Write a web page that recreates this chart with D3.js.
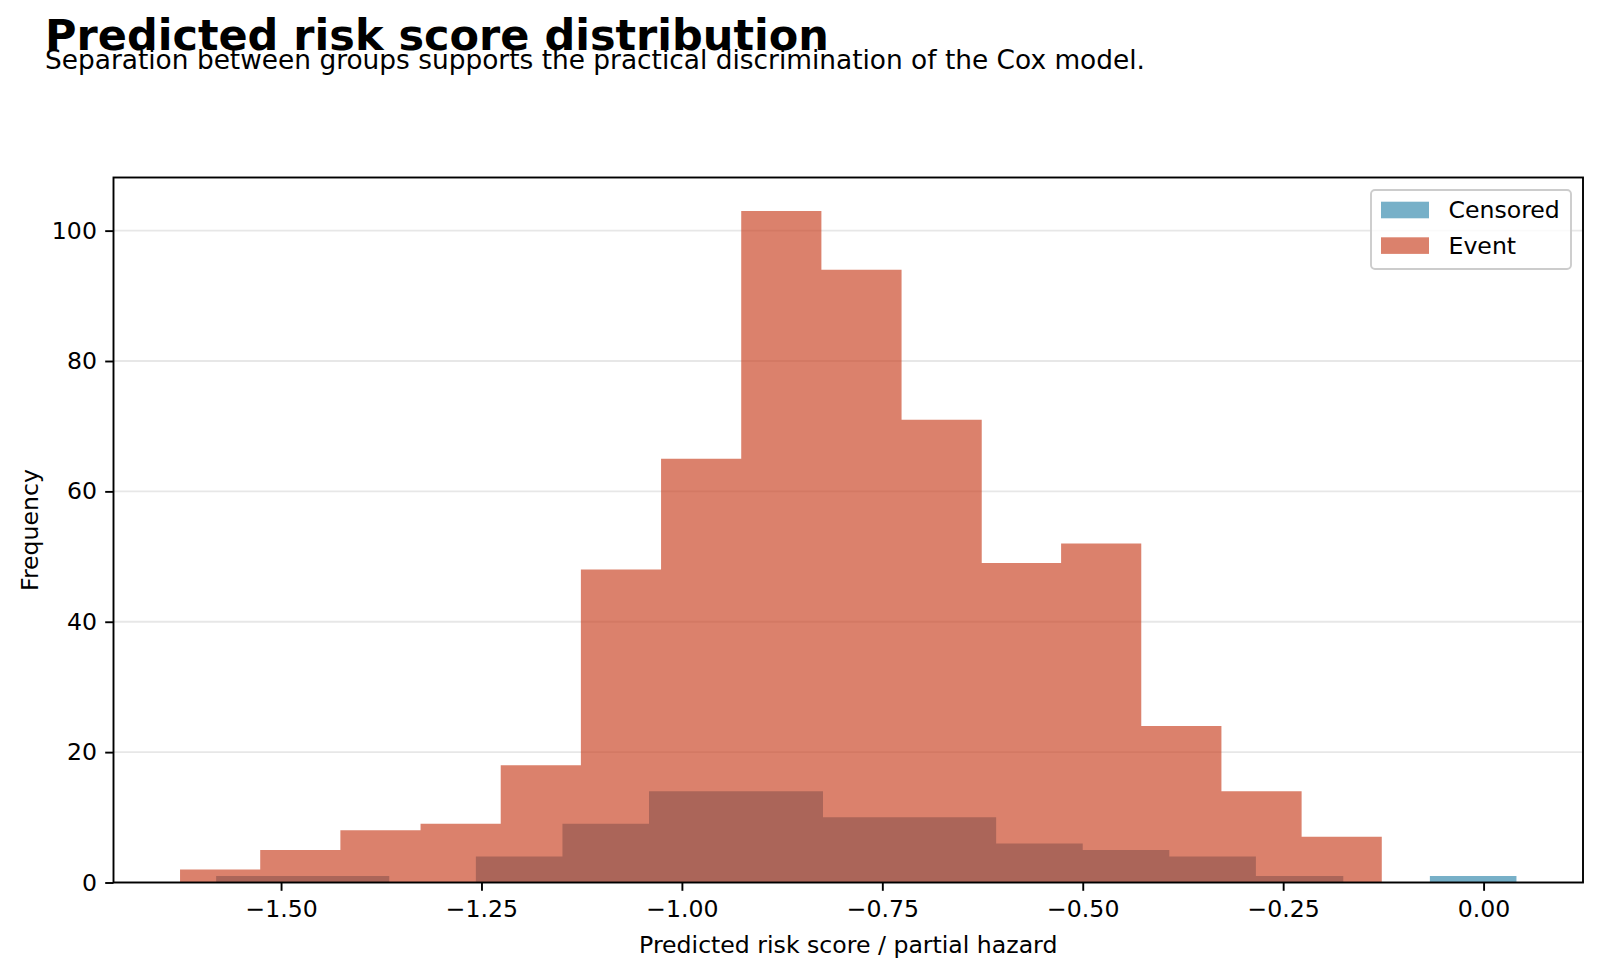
<!DOCTYPE html>
<html>
<head>
<meta charset="utf-8">
<script src="https://cdn.jsdelivr.net/npm/d3@7"></script>
<style>
    body { margin: 0; background: #fff; }
    text { font-family: 'DejaVu Sans', sans-serif; fill: #000; }
</style>
</head>
<body>
<div id="chart"></div>
<script>
//Datos del histograma (bordes de bin y frecuencias)
const censoredEdges = [-1.581, -1.473, -1.365, -1.257, -1.149, -1.041, -0.932, -0.824, -0.716, -0.608, -0.500, -0.392, -0.284, -0.175, -0.067, 0.041];
const censoredCounts = [1, 1, 0, 4, 9, 14, 14, 10, 10, 6, 5, 4, 1, 0, 1];
const eventEdges = [-1.626, -1.526, -1.426, -1.326, -1.226, -1.126, -1.026, -0.926, -0.826, -0.726, -0.626, -0.527, -0.427, -0.327, -0.227, -0.127];
const eventCounts = [2, 5, 8, 9, 18, 48, 65, 103, 94, 71, 49, 52, 24, 14, 7];
const xTicks = [-1.5, -1.25, -1.0, -0.75, -0.5, -0.25, 0.0];
const yTicks = [0, 20, 40, 60, 80, 100];
const seriesNames = ['Censored', 'Event'];

//Colores fijos
const COLOR_CENSORED = '#2E86AB',
COLOR_EVENT = '#C73E1D';
const FS = 23.6;

let margin = {top: 177.5, right: 17, bottom: 92.5, left: 113.5},
    width = 1600 - margin.left - margin.right,
    height = 975 - margin.top - margin.bottom;

let root = d3.select('#chart')
    .append('svg')
        .attr('width', 1600)
        .attr('height', 975);

root.append('rect').attr('width', 1600).attr('height', 975).attr('fill', '#fff');

//Titulos
root.append('text')
    .attr('x', 45).attr('y', 50)
    .style('font-size', '43px').style('font-weight', 'bold')
    .text('Predicted risk score distribution');

root.append('text')
    .attr('x', 45).attr('y', 68.5)
    .style('font-size', '26.4px')
    .text('Separation between groups supports the practical discrimination of the Cox model.');

let svg = root.append('g')
    .attr('transform', 'translate(' + margin.left + ',' + margin.top + ')');

// X axis
let x = d3.scaleLinear()
    .domain([-1.709, 0.124])
    .range([0, width]);

// Y axis
let y = d3.scaleLinear()
    .domain([0, d3.max(eventCounts) * 1.05])
    .range([height, 0]);

//Grid horizontal
svg.append('g')
    .selectAll('line')
    .data(yTicks)
    .enter()
    .append('line')
        .attr('x1', 0).attr('x2', width)
        .attr('y1', function(d) { return y(d); })
        .attr('y2', function(d) { return y(d); })
        .attr('stroke', '#b0b0b0')
        .attr('stroke-opacity', 0.3)
        .attr('stroke-width', 1.9);

//Cada histograma en un solo path para evitar costuras entre barras
function drawHist(edges, counts, color) {
    let bins = counts.map(function(c, i) { return {x0: edges[i], x1: edges[i + 1], n: c}; })
        .filter(function(d) { return d.n > 0; });
    let p = d3.path();
    bins.forEach(function(d) {
        p.rect(x(d.x0), y(d.n), x(d.x1) - x(d.x0), y(0) - y(d.n));
    });
    svg.append('path')
        .datum(bins)
        .attr('d', p.toString())
        .attr('fill', color)
        .attr('fill-opacity', 0.65);
}

drawHist(censoredEdges, censoredCounts, COLOR_CENSORED);
drawHist(eventEdges, eventCounts, COLOR_EVENT);

let xAxis = function(g) {
    g.call(d3.axisBottom(x).tickValues(xTicks).tickSizeOuter(0).tickSize(8.3).tickPadding(9)
        .tickFormat(function(d) { return d3.format('.2f')(d).replace('-', '\u2212'); }));
    g.select('.domain').remove();
    g.selectAll('.tick line').attr('stroke-width', 1.9);
    g.selectAll('.tick text').attr('font-family', 'DejaVu Sans').attr('font-size', FS);
}

svg.append('g')
    .attr('transform', 'translate(0,' + height + ')')
    .call(xAxis);

let yAxis = function(g) {
    g.call(d3.axisLeft(y).tickValues(yTicks).tickSizeOuter(0).tickSize(8.3).tickPadding(8.3));
    g.select('.domain').remove();
    g.selectAll('.tick line').attr('stroke-width', 1.9);
    g.selectAll('.tick text').attr('font-family', 'DejaVu Sans').attr('font-size', FS);
}

svg.append('g')
    .call(yAxis);

//Marco
svg.append('rect')
    .attr('width', width).attr('height', height)
    .attr('fill', 'none').attr('stroke', '#000').attr('stroke-width', 1.9);

//Etiquetas de ejes
svg.append('text')
    .attr('x', width / 2).attr('y', 953 - margin.top)
    .attr('text-anchor', 'middle')
    .style('font-size', FS + 'px')
    .text('Predicted risk score / partial hazard');

svg.append('text')
    .attr('transform', 'translate(' + (38 - margin.left) + ',' + (height / 2) + ') rotate(-90)')
    .attr('text-anchor', 'middle')
    .style('font-size', FS + 'px')
    .text('Frequency');

//Leyenda
let legend = root.append('g').attr('transform', 'translate(1371,190)');
legend.append('rect')
    .attr('width', 200).attr('height', 79)
    .attr('rx', 4)
    .attr('fill', '#fff').attr('fill-opacity', 0.8)
    .attr('stroke', '#ccc').attr('stroke-width', 1.9);

let items = legend.selectAll('.item')
    .data(seriesNames)
    .enter()
    .append('g')
        .attr('transform', function(d, i) { return 'translate(10,' + (11.7 + i * 35.6) + ')'; });

items.append('rect')
    .attr('width', 48).attr('height', 16.6)
    .attr('fill', function(d, i) { return i == 0 ? COLOR_CENSORED : COLOR_EVENT; })
    .attr('fill-opacity', 0.65);

items.append('text')
    .attr('x', 67.5).attr('y', 16.6)
    .style('font-size', FS + 'px')
    .text(function(d) { return d; });
</script>
</body>
</html>
